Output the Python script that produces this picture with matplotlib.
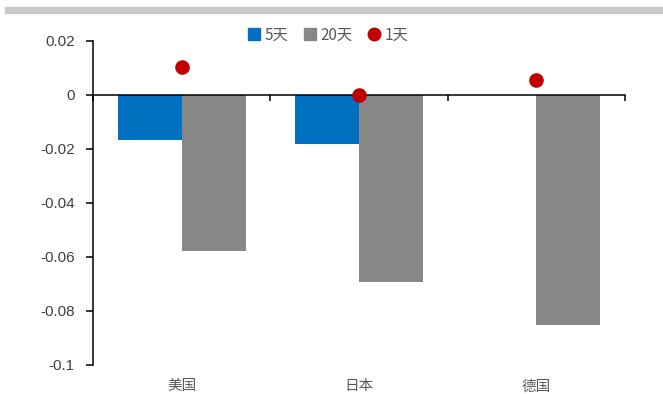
import matplotlib
matplotlib.use("Agg")
import matplotlib.pyplot as plt
from matplotlib.lines import Line2D
from matplotlib.patches import Patch
import numpy as np

categories = ["美国", "日本", "德国"]
s5 = [-0.0167, -0.0181, 0.0]
s20 = [-0.0578, -0.0693, -0.0852]
s1 = [0.0104, 0.0, 0.0056]
yticks = [0.02, 0, -0.02, -0.04, -0.06, -0.08, -0.1]
ytick_labels = ["0.02", "0", "-0.02", "-0.04", "-0.06", "-0.08", "-0.1"]

C_BLUE = "#0070C0"
C_GRAY = "#878787"
C_RED = "#C00000"
TXT = "#595959"
CJK = ["Noto Sans CJK SC", "DejaVu Sans"]

fig = plt.figure(figsize=(6.63, 3.94), dpi=100)
# top gray band
fig.patches.append(plt.Rectangle((5/663, 1-13/394), 1, 6/394, transform=fig.transFigure,
                                 color="#C8C8C8", zorder=0))
ax = fig.add_axes([93/663, 1-365/394, (625-93)/663, (365-41)/394])

x = np.arange(len(categories))
w = 0.36
ax.bar(x - w/2, s5, width=w, color=C_BLUE, zorder=2)
ax.bar(x + w/2, s20, width=w, color=C_GRAY, zorder=2)
ax.scatter(x, s1, s=110, color=C_RED, zorder=4, linewidths=0)

ax.set_xlim(-0.5, 2.5)
ax.set_ylim(-0.1, 0.02)
ax.set_yticks(yticks)
ax.set_yticklabels(ytick_labels, fontfamily="Liberation Sans", fontsize=11, color="#404040")
ax.tick_params(axis="y", direction="out", length=5, width=1.1, pad=8, color="black")

for s in ["top", "right"]:
    ax.spines[s].set_visible(False)
ax.spines["left"].set_linewidth(1.1)
ax.spines["bottom"].set_position(("data", 0))
ax.spines["bottom"].set_linewidth(1.1)
ax.spines["bottom"].set_zorder(3)
ax.set_xticks([-0.5, 0.5, 1.5, 2.5])
ax.set_xticklabels([])
ax.tick_params(axis="x", direction="out", length=4, width=1.1, color="black")

for i, c in enumerate(categories):
    ax.text(i, -0.066, c, transform=ax.get_xaxis_transform(), ha="center", va="center",
            fontfamily=CJK, fontsize=10.5, color=TXT, clip_on=False)

handles = [Patch(color=C_BLUE), Patch(color=C_GRAY),
           Line2D([], [], marker="o", linestyle="none", color=C_RED, markersize=9)]
leg = fig.legend(handles, ["5天", "20天", "1天"], loc="center", ncol=3,
                 bbox_to_anchor=(328/663, 1-35/394), frameon=False,
                 prop={"family": CJK, "size": 11}, handlelength=0.8, handleheight=0.8,
                 handletextpad=0.3, columnspacing=1.0, labelcolor=TXT)

fig.savefig("out.png", dpi=100)
